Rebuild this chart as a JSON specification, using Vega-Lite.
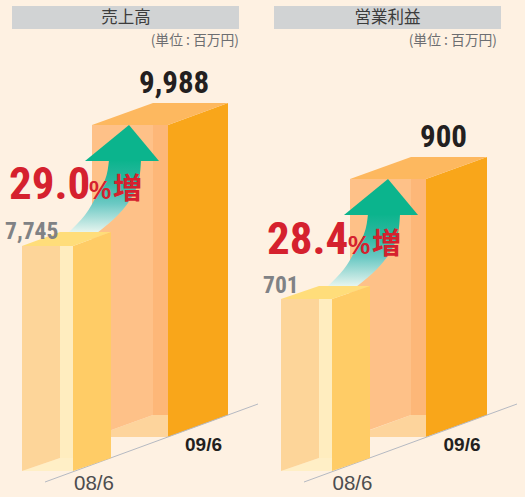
{"$schema":"https://vega.github.io/schema/vega-lite/v6.json","width":525,"height":497,"autosize":{"type":"fit","contains":"padding"},"padding":0,"background":"#FEF1E2","view":{"stroke":null},"config":{"axis":{"disable":true},"style":{"cell":{"stroke":null}}},
"datasets":{
"heads":[{"panel":"sales","x":12,"x2":239},{"panel":"profit","x":274,"x2":501}],
"verticals":[
{"panel":"sales","bar":"09/6","face":"floor","x":92,"top":437,"bottom":437},{"panel":"sales","bar":"09/6","face":"floor","x":153,"top":415,"bottom":437},{"panel":"sales","bar":"09/6","face":"floor","x":168,"top":415,"bottom":437},
{"panel":"sales","bar":"09/6","face":"back","x":92,"top":125,"bottom":437},{"panel":"sales","bar":"09/6","face":"back","x":153,"top":125,"bottom":415},
{"panel":"sales","bar":"09/6","face":"inner","x":153,"top":125,"bottom":415},{"panel":"sales","bar":"09/6","face":"inner","x":168,"top":125,"bottom":415},
{"panel":"sales","bar":"09/6","face":"side","x":168,"top":125,"bottom":437},{"panel":"sales","bar":"09/6","face":"side","x":228,"top":103,"bottom":415},
{"panel":"profit","bar":"09/6","face":"floor","x":351,"top":437,"bottom":437},{"panel":"profit","bar":"09/6","face":"floor","x":411,"top":415,"bottom":437},{"panel":"profit","bar":"09/6","face":"floor","x":426,"top":415,"bottom":437},
{"panel":"profit","bar":"09/6","face":"back","x":350,"top":179,"bottom":437},{"panel":"profit","bar":"09/6","face":"back","x":411,"top":179,"bottom":415},
{"panel":"profit","bar":"09/6","face":"inner","x":411,"top":179,"bottom":415},{"panel":"profit","bar":"09/6","face":"inner","x":426,"top":179,"bottom":415},
{"panel":"profit","bar":"09/6","face":"side","x":426,"top":179,"bottom":437},{"panel":"profit","bar":"09/6","face":"side","x":487,"top":157,"bottom":415},
{"panel":"sales","bar":"08/6","face":"floorS","x":22,"top":471,"bottom":471},{"panel":"sales","bar":"08/6","face":"floorS","x":60,"top":458,"bottom":471},{"panel":"sales","bar":"08/6","face":"floorS","x":73,"top":458,"bottom":471},
{"panel":"sales","bar":"08/6","face":"backS","x":22,"top":246,"bottom":471},{"panel":"sales","bar":"08/6","face":"backS","x":60,"top":246,"bottom":458},
{"panel":"sales","bar":"08/6","face":"innerS","x":60,"top":246,"bottom":458},{"panel":"sales","bar":"08/6","face":"innerS","x":73,"top":246,"bottom":458},
{"panel":"sales","bar":"08/6","face":"sideS","x":73,"top":246,"bottom":471},{"panel":"sales","bar":"08/6","face":"sideS","x":111,"top":232,"bottom":458},
{"panel":"profit","bar":"08/6","face":"floorS","x":281,"top":471,"bottom":471},{"panel":"profit","bar":"08/6","face":"floorS","x":319,"top":458,"bottom":471},{"panel":"profit","bar":"08/6","face":"floorS","x":332,"top":458,"bottom":471},
{"panel":"profit","bar":"08/6","face":"backS","x":281,"top":299,"bottom":471},{"panel":"profit","bar":"08/6","face":"backS","x":319,"top":299,"bottom":458},
{"panel":"profit","bar":"08/6","face":"innerS","x":319,"top":299,"bottom":458},{"panel":"profit","bar":"08/6","face":"innerS","x":332,"top":299,"bottom":458},
{"panel":"profit","bar":"08/6","face":"sideS","x":332,"top":299,"bottom":471},{"panel":"profit","bar":"08/6","face":"sideS","x":370,"top":286,"bottom":458}
],
"tops":[
{"panel":"sales","bar":"09/6","y":103,"left":153,"right":228},{"panel":"sales","bar":"09/6","y":125,"left":92,"right":168},
{"panel":"profit","bar":"09/6","y":157,"left":411,"right":487},{"panel":"profit","bar":"09/6","y":179,"left":350,"right":426},
{"panel":"sales","bar":"08/6","y":232,"left":60,"right":111},{"panel":"sales","bar":"08/6","y":246,"left":22,"right":73},
{"panel":"profit","bar":"08/6","y":286,"left":319,"right":370},{"panel":"profit","bar":"08/6","y":299,"left":281,"right":332}
],
"shaft":[
{"panel":"sales","y":160,"left":109,"right":141},{"panel":"sales","y":180,"left":105,"right":139},{"panel":"sales","y":195,"left":97,"right":133},{"panel":"sales","y":215,"left":85,"right":118},{"panel":"sales","y":233,"left":68,"right":97},
{"panel":"profit","y":214,"left":368,"right":400},{"panel":"profit","y":234,"left":364,"right":398},{"panel":"profit","y":249,"left":356,"right":392},{"panel":"profit","y":269,"left":344,"right":377},{"panel":"profit","y":287,"left":327,"right":356}
],
"arrowhead":[
{"panel":"sales","y":125,"left":129,"right":129},{"panel":"sales","y":161,"left":85,"right":159},
{"panel":"profit","y":179,"left":388,"right":388},{"panel":"profit","y":215,"left":344,"right":418}
],
"baseline":[{"panel":"sales","x":45,"y":482,"x2":258,"y2":404},{"panel":"profit","x":304,"y":482,"x2":517,"y2":404}]
},
"encoding":{"x":{"type":"quantitative","scale":{"domain":[0,525],"nice":false,"zero":false},"axis":null},"y":{"type":"quantitative","scale":{"domain":[497,0],"nice":false,"zero":false},"axis":null}},
"layer":[
{"data":{"name":"heads"},"mark":{"type":"rect","fill":"#D1D3D4"},"encoding":{"x":{"field":"x","type":"quantitative"},"x2":{"field":"x2"},"y":{"datum":6},"y2":{"datum":29}}},
{"data":{"name":"verticals"},"transform":[{"filter":"datum.bar==='09/6'"}],"mark":{"type":"area"},"encoding":{"x":{"field":"x","type":"quantitative"},"y":{"field":"top","type":"quantitative"},"y2":{"field":"bottom"},"detail":{"field":"panel"},"color":{"field":"face","type":"nominal","legend":null,"scale":{"domain":["floor","back","inner","side","floorS","backS","innerS","sideS"],"range":["#FDD49C","#FEC188","#FDB778","#F9A61A","#FFEFC6","#FDD599","#FFEDBF","#FFCC66"]}}}},
{"data":{"name":"tops"},"transform":[{"filter":"datum.bar==='09/6'"}],"mark":{"type":"area","orient":"horizontal","fill":"#FDB85F"},"encoding":{"y":{"field":"y","type":"quantitative"},"x":{"field":"left","type":"quantitative"},"x2":{"field":"right"},"detail":{"field":"panel"}}},
{"data":{"name":"baseline"},"mark":{"type":"rule","stroke":"#B5B9C2","strokeWidth":1},"encoding":{"x":{"field":"x","type":"quantitative"},"y":{"field":"y","type":"quantitative"},"x2":{"field":"x2"},"y2":{"field":"y2"}}},
{"data":{"name":"shaft"},"mark":{"type":"area","orient":"horizontal","interpolate":"monotone","fill":{"gradient":"linear","x1":0,"y1":0,"x2":0,"y2":1,"stops":[{"offset":0,"color":"#0BB48D"},{"offset":0.3,"color":"#2DB8A0"},{"offset":0.6,"color":"#6CC9C4"},{"offset":1,"color":"#EAF6F0"}]}},"encoding":{"y":{"field":"y","type":"quantitative"},"x":{"field":"left","type":"quantitative"},"x2":{"field":"right"},"detail":{"field":"panel"}}},
{"data":{"name":"arrowhead"},"mark":{"type":"area","orient":"horizontal","fill":"#0BB48D"},"encoding":{"y":{"field":"y","type":"quantitative"},"x":{"field":"left","type":"quantitative"},"x2":{"field":"right"},"detail":{"field":"panel"}}},
{"data":{"name":"verticals"},"transform":[{"filter":"datum.bar==='08/6'"}],"mark":{"type":"area"},"encoding":{"x":{"field":"x","type":"quantitative"},"y":{"field":"top","type":"quantitative"},"y2":{"field":"bottom"},"detail":{"field":"panel"},"color":{"field":"face","type":"nominal","legend":null}}},
{"data":{"name":"tops"},"transform":[{"filter":"datum.bar==='08/6'"}],"mark":{"type":"area","orient":"horizontal","fill":"#FFDD7A"},"encoding":{"y":{"field":"y","type":"quantitative"},"x":{"field":"left","type":"quantitative"},"x2":{"field":"right"},"detail":{"field":"panel"}}},
{"data":{"values":[{"t":"売上高","x":126,"y":18},{"t":"営業利益","x":387.5,"y":18}]},"mark":{"type":"text","font":"Noto Sans CJK JP","fontSize":16.5,"fill":"#3C3C3C","baseline":"middle","align":"center"},"encoding":{"x":{"field":"x","type":"quantitative"},"y":{"field":"y","type":"quantitative"},"text":{"field":"t"}}},
{"data":{"values":[{"t":"(単位 : 百万円)","x":239,"y":45},{"t":"(単位 : 百万円)","x":497,"y":45}]},"mark":{"type":"text","font":"Noto Sans CJK JP","fontSize":13.8,"fill":"#6D6E71","align":"right","baseline":"alphabetic"},"encoding":{"x":{"field":"x","type":"quantitative"},"y":{"field":"y","type":"quantitative"},"text":{"field":"t"}}},
{"data":{"values":[{"t":"9,988","x":139,"y":93},{"t":"900","x":420,"y":147}]},"mark":{"type":"text","font":"Roboto Condensed","fontWeight":"bold","fontSize":31,"fill":"#231F20","align":"left","baseline":"alphabetic"},"encoding":{"x":{"field":"x","type":"quantitative"},"y":{"field":"y","type":"quantitative"},"text":{"field":"t"}}},
{"data":{"values":[{"t":"7,745","x":5,"y":239},{"t":"701","x":263,"y":293}]},"mark":{"type":"text","font":"Roboto Condensed","fontWeight":"bold","fontSize":23.5,"fill":"#808285","align":"left","baseline":"alphabetic"},"encoding":{"x":{"field":"x","type":"quantitative"},"y":{"field":"y","type":"quantitative"},"text":{"field":"t"}}},
{"data":{"values":[{"t":"29.0","x":9,"y":199},{"t":"28.4","x":267,"y":254}]},"mark":{"type":"text","font":"Roboto Condensed","fontWeight":"bold","fontSize":45,"fill":"#D5212E","align":"left","baseline":"alphabetic"},"encoding":{"x":{"field":"x","type":"quantitative"},"y":{"field":"y","type":"quantitative"},"text":{"field":"t"}}},
{"data":{"values":[{"t":"%","x":89,"y":199},{"t":"%","x":348,"y":254}]},"mark":{"type":"text","font":"Liberation Sans","fontWeight":"bold","fontSize":25,"fill":"#D5212E","align":"left","baseline":"alphabetic"},"encoding":{"x":{"field":"x","type":"quantitative"},"y":{"field":"y","type":"quantitative"},"text":{"field":"t"}}},
{"data":{"values":[{"t":"増","x":113,"y":199},{"t":"増","x":372,"y":254}]},"mark":{"type":"text","font":"Noto Sans CJK JP","fontWeight":"bold","fontSize":29,"fill":"#D5212E","align":"left","baseline":"alphabetic"},"encoding":{"x":{"field":"x","type":"quantitative"},"y":{"field":"y","type":"quantitative"},"text":{"field":"t"}}},
{"data":{"values":[{"t":"08/6","x":94,"y":490},{"t":"08/6","x":352.5,"y":490}]},"mark":{"type":"text","font":"Liberation Sans","fontSize":20.5,"fill":"#4D4D4F","align":"center","baseline":"alphabetic"},"encoding":{"x":{"field":"x","type":"quantitative"},"y":{"field":"y","type":"quantitative"},"text":{"field":"t"}}},
{"data":{"values":[{"t":"09/6","x":203.5,"y":451},{"t":"09/6","x":462,"y":451}]},"mark":{"type":"text","font":"Liberation Sans","fontWeight":"bold","fontSize":19,"fill":"#231F20","align":"center","baseline":"alphabetic"},"encoding":{"x":{"field":"x","type":"quantitative"},"y":{"field":"y","type":"quantitative"},"text":{"field":"t"}}}
]}
